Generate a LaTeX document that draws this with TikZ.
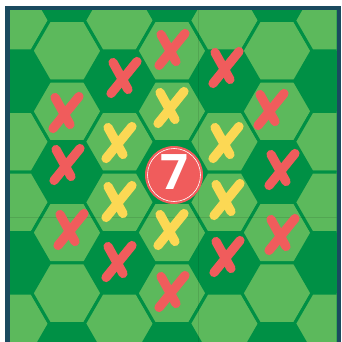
\documentclass[tikz,border=0pt]{standalone}
\usepackage{fontspec}
\newfontfamily\numfont{Open Sans}
\definecolor{lightg}{RGB}{92,185,92}
\definecolor{darkg}{RGB}{0,144,69}
\definecolor{navy}{RGB}{26,74,95}
\definecolor{redx}{RGB}{240,92,92}
\definecolor{yellowx}{RGB}{252,216,84}
\tikzset{
  hexcell/.style={fill=lightg, draw=darkg, line width=3pt, line join=miter},
  seamline/.style={draw=black, opacity=0.1, line width=0.8pt},
  xmark/.pic={
    \draw[line width=9.2pt, line cap=round] (-10,-15.5) -- (5,11.5);
    \draw[line width=9.2pt, line cap=round] (14,-16.5) -- (-12,15.5);
  },
}
\begin{document}
\begin{tikzpicture}[x=1pt,y=-1pt]
\useasboundingbox (0,0) rectangle (341,342);
\fill[white] (0,0) rectangle (341,342);
\fill[darkg] (10,10.5) rectangle (336.5,342);
\begin{scope}
\clip (10,10.5) rectangle (336.5,342);
\foreach \c in {-4,...,4}{
  \foreach \r in {-7,...,7}{
    \pgfmathtruncatemacro\m{mod(\c-\r+30,3)}
    \ifnum\m=0 \else
      \pgfmathsetmacro\hx{172+52.5*\c}
      \pgfmathsetmacro\hy{172+60.62*(\r+\c/2)}
      \draw[hexcell] (\hx+35,\hy) -- (\hx+17.5,\hy+30.31) -- (\hx-17.5,\hy+30.31) -- (\hx-35,\hy) -- (\hx-17.5,\hy-30.31) -- (\hx+17.5,\hy-30.31) -- cycle;
    \fi
  }
}
\draw[seamline] (198.3,10.5) -- (198.3,342);
\draw[seamline] (10,217) -- (336.5,217);
\end{scope}
\fill[navy] (5,6) rectangle (341,10.5);
\fill[navy] (5,6) rectangle (10,342);
\fill[navy] (336.5,6) rectangle (341,342);
\foreach \p in {(171,50),(123,78),(225,68),(65,113),(270,110),(66,165),(281,170),(70,230),(281,235),(118,262),(226,257),(171,292)}
  \pic[color=redx] at \p {xmark};
\foreach \p in {(170,108),(118,143),(225,143),(118,202),(226,200),(170,230)}
  \pic[color=yellowx] at \p {xmark};
\node[circle, fill=redx, minimum size=58pt, inner sep=0pt] (seven) at (174,175) {};
\draw[white, line width=0.6pt] (seven.center) circle (26.5);
\node[text=white, inner sep=0pt] (num) at (174.5,172.5) {\numfont\bfseries\fontsize{49}{49}\selectfont 7};
\end{tikzpicture}
\end{document}
